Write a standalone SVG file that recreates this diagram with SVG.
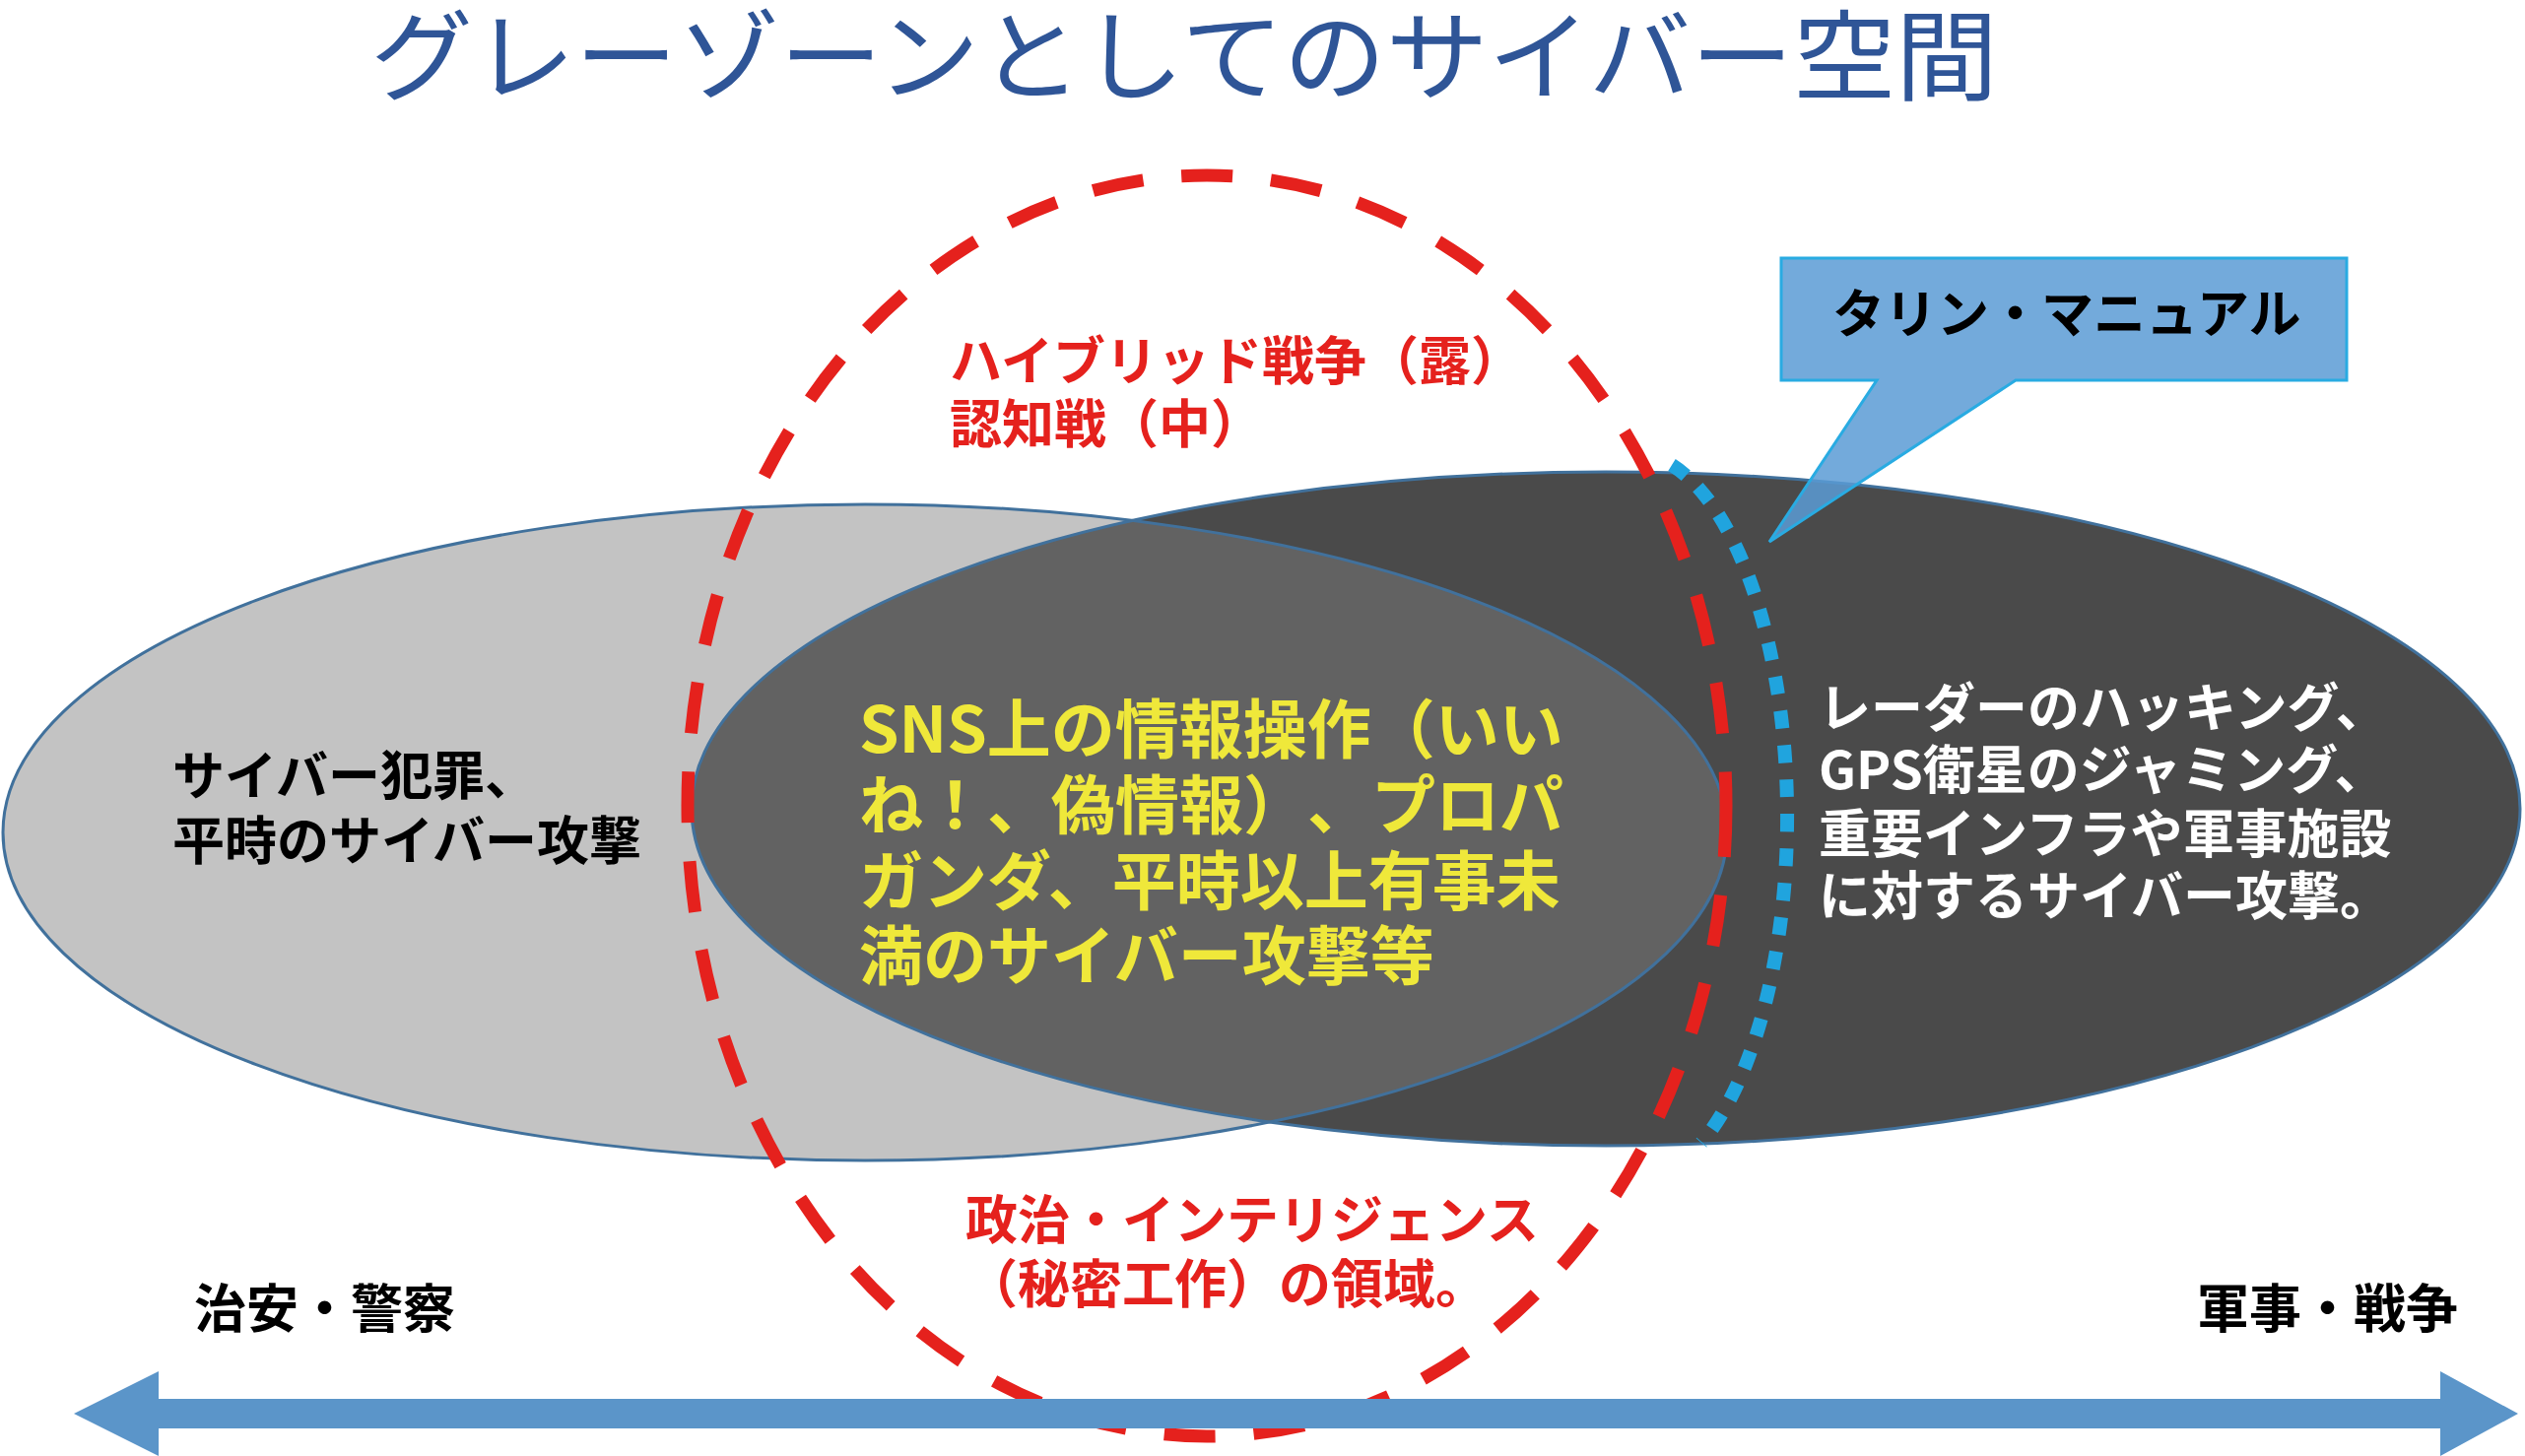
<svg xmlns="http://www.w3.org/2000/svg" width="2563" height="1478" viewBox="0 0 2563 1478">
<style>
text{text-spacing-trim:space-all}
.jp{font-family:"Noto Sans CJK JP","Noto Sans",sans-serif;font-weight:700;font-size:53px}
.ttl{font-family:"Noto Sans CJK JP","Noto Sans",sans-serif;font-weight:400;font-size:100px;fill:#2f5597}
.red{fill:#e5211d}
.blk{fill:#000}
.wht{fill:#fff}
.yel{fill:#efe83a;font-size:65px}
.outl{fill:none;stroke:#41719c;stroke-width:3}
</style>
<defs>
<clipPath id="darkClip"><ellipse cx="1630" cy="821" rx="928" ry="342"/></clipPath>
</defs>
<rect width="2563" height="1478" fill="#fff"/>
<g id="title">
<text class="ttl" x="376" y="94" textLength="1652" lengthAdjust="spacingAndGlyphs">グレーゾーンとしてのサイバー空間</text>
</g>
<g id="policeEllipse">
<ellipse cx="878" cy="845" rx="875" ry="333" fill="#c3c3c3"/>
</g>
<g id="militaryEllipse">
<ellipse cx="1630" cy="821" rx="928" ry="342" fill="#4a4a4a"/>
</g>
<g id="overlap">
<ellipse cx="878" cy="845" rx="875" ry="333" fill="#626262" clip-path="url(#darkClip)"/>
<ellipse class="outl" cx="878" cy="845" rx="875" ry="333"/>
<ellipse class="outl" cx="1630" cy="821" rx="928" ry="342"/>
</g>
<g id="callout">
<path d="M1808,262 H2382 V386 H2046 L1796,550 L1905,386 H1808 Z" fill="#5b9bd5" fill-opacity="0.85" stroke="#29abe2" stroke-width="3"/>
<text class="jp blk" x="1860" y="338">タリン・マニュアル</text>
</g>
<g id="connectors">
<ellipse id="grayZone" cx="1225" cy="818" rx="527" ry="640" fill="none" stroke="#e5211d" stroke-width="13" stroke-dasharray="52 39"/>
<path id="tallinnArc" d="M1697,472 A158,370 0 0 1 1727,1160" fill="none" stroke="#20a4de" stroke-width="14" stroke-dasharray="18 17"/>
<path id="axis" d="M75,1435 L161,1392 L161,1420 L2477,1420 L2477,1392 L2556,1435 L2477,1478 L2477,1450 L161,1450 L161,1478 Z" fill="#5b95c9"/>
</g>
<g id="hybridLabel">
<text class="jp red" x="964" y="386">ハイブリッド戦争（露）</text>
<text class="jp red" x="964" y="450">認知戦（中）</text>
</g>
<g id="crimeLabel">
<text class="jp blk" x="175" y="807">サイバー犯罪、</text>
<text class="jp blk" x="175" y="873">平時のサイバー攻撃</text>
</g>
<g id="snsLabel">
<text class="jp yel" x="872" y="764">SNS上の情報操作（いい</text>
<text class="jp yel" x="872" y="841">ね！、偽情報）、プロパ</text>
<text class="jp yel" x="872" y="918">ガンダ、平時以上有事未</text>
<text class="jp yel" x="872" y="994">満のサイバー攻撃等</text>
</g>
<g id="militaryLabel">
<text class="jp wht" x="1846" y="738">レーダーのハッキング、</text>
<text class="jp wht" x="1846" y="801">GPS衛星のジャミング、</text>
<text class="jp wht" x="1846" y="866">重要インフラや軍事施設</text>
<text class="jp wht" x="1846" y="929">に対するサイバー攻撃。</text>
</g>
<g id="intelLabel">
<text class="jp red" x="980" y="1258">政治・インテリジェンス</text>
<text class="jp red" x="980" y="1323">（秘密工作）の領域。</text>
</g>
<g id="policeLabel">
<text class="jp blk" x="197" y="1348">治安・警察</text>
</g>
<g id="warLabel">
<text class="jp blk" x="2230" y="1348">軍事・戦争</text>
</g>
</svg>
